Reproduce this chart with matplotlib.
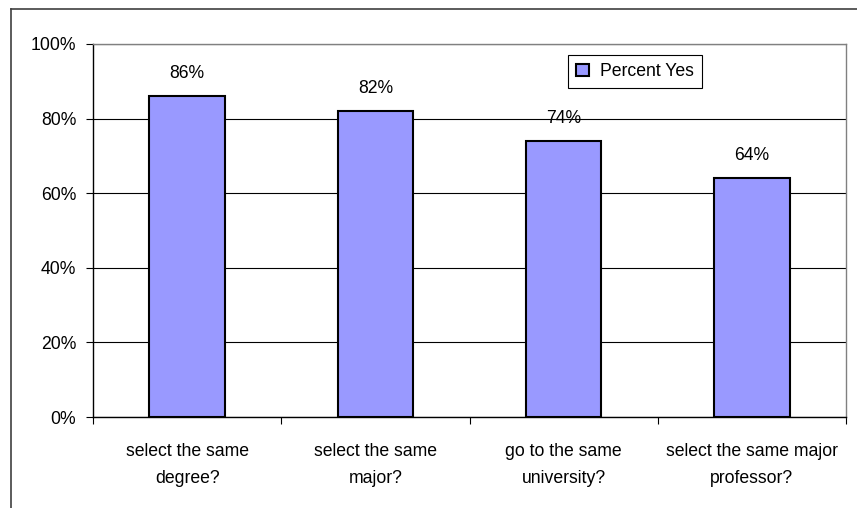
import matplotlib
matplotlib.use("Agg")
import matplotlib.pyplot as plt
from matplotlib.lines import Line2D
from matplotlib.ticker import FixedLocator, PercentFormatter

categories = [
    "select the same\ndegree?",
    "select the same\nmajor?",
    "go to the same\nuniversity?",
    "select the same major\nprofessor?",
]
percent_yes = [86, 82, 74, 64]
series_name = "Percent Yes"
y_ticks = [0, 20, 40, 60, 80, 100]

plt.rcParams["font.family"] = ["Liberation Sans", "DejaVu Sans"]
FS = 12.7

fig = plt.figure(figsize=(8.57, 5.08), dpi=100)
ax = fig.add_axes([93 / 857, 1 - 417 / 508, (846 - 93) / 857, (417 - 44) / 508])

x = list(range(len(categories)))
bars = ax.bar(x, percent_yes, width=0.4, color="#9999FF", edgecolor="black",
              linewidth=1.5, label=series_name, zorder=3)

for xi, v in zip(x, percent_yes):
    ax.annotate(f"{v}%", (xi, v), xytext=(0, 16.5), textcoords="offset points",
                ha="center", va="center", fontsize=FS, zorder=4)

ax.set_xlim(-0.5, len(categories) - 0.5)
ax.set_ylim(0, 100)
ax.set_yticks(y_ticks)
ax.yaxis.set_major_formatter(PercentFormatter(decimals=0))
ax.yaxis.grid(True, color="black", linewidth=0.8, zorder=1)

# tick marks on category boundaries, labels at category centres
ax.xaxis.set_major_locator(FixedLocator([i - 0.5 for i in range(len(categories) + 1)]))
ax.xaxis.set_minor_locator(FixedLocator(x))
ax.set_xticklabels([])
ax.set_xticklabels(categories, minor=True)
ax.tick_params(axis="x", which="major", direction="out", length=5, width=0.8, color="black")
ax.tick_params(axis="x", which="minor", length=0, pad=18.5, labelsize=FS)
ax.tick_params(axis="y", direction="out", length=5, width=0.8, pad=7, labelsize=FS)
for lab in ax.get_xticklabels(minor=True):
    lab.set_linespacing(1.8)

for side in ("left", "bottom"):
    ax.spines[side].set_color("black")
    ax.spines[side].set_linewidth(1.0)
for side in ("top", "right"):
    ax.spines[side].set_color("#808080")
    ax.spines[side].set_linewidth(1.0)

leg = ax.legend(loc="upper left", bbox_to_anchor=(0.631, 0.970), fontsize=FS,
                frameon=True, fancybox=False, framealpha=1, edgecolor="black",
                handlelength=0.75, handleheight=0.75, handletextpad=0.6,
                borderpad=0.45, borderaxespad=0)
leg.get_frame().set_linewidth(0.8)

# chart-area border
fig.add_artist(Line2D([11 / 857, 11 / 857], [0, 1 - 9 / 508], transform=fig.transFigure,
                      color="#404040", linewidth=1.2))
fig.add_artist(Line2D([11 / 857, 1], [1 - 9 / 508, 1 - 9 / 508], transform=fig.transFigure,
                      color="#404040", linewidth=1.2))

fig.savefig("out.png", dpi=100)
